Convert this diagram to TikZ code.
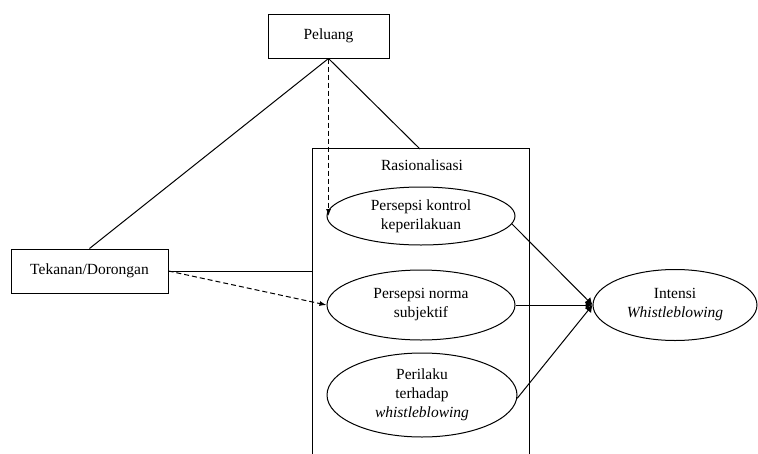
\documentclass[tikz,border=0pt]{standalone}
\usepackage{fontspec}
\setmainfont{Liberation Serif}
\usetikzlibrary{shapes.geometric,arrows.meta}
\begin{document}
\begin{tikzpicture}[x=1pt,y=-1pt,
  every node/.style={font=\fontsize{15.5}{19}\selectfont, align=center, inner sep=0pt},
  boxnode/.style={draw, line width=1pt, rectangle},
  ovalnode/.style={draw, line width=1pt, ellipse},
  conn/.style={line width=1pt},
  dasharrow/.style={line width=1pt, dashed, dash pattern=on 5pt off 3pt, -{Latex[length=7pt,width=5pt]}},
  joinarrow/.style={line width=1pt, -{Latex[length=7pt,width=8pt]}}]
\useasboundingbox (0,0) rectangle (758,453);
% nodes
\node[boxnode, minimum width=121pt, minimum height=44pt] (pel) at (328.5,36) {Peluang};
\node[boxnode, minimum width=157pt, minimum height=44pt] (tek) at (89.5,271) {Tekanan/Dorongan};
\node[minimum width=216pt, minimum height=320pt] (ras) at (421,309) {};
\node (raslabel) at (422,165) {Rasionalisasi};
\node[ovalnode, minimum width=188pt, minimum height=58pt] (e1) at (421,216) {Persepsi kontrol\\keperilakuan};
\node[ovalnode, minimum width=188pt, minimum height=70pt] (e2) at (421,305) {Persepsi norma\\subjektif};
\node[ovalnode, minimum width=190pt, minimum height=84pt] (e3) at (422,395) {Perilaku\\terhadap\\\textit{whistleblowing}};
\node[ovalnode, minimum width=164pt, minimum height=71pt] (int) at (675,305) {Intensi\\\textit{Whistleblowing}};
\coordinate (rastop) at (420,149);
% container sides (bottom runs off the picture)
\draw[conn] (ras.south west) |- (ras.north east) -- (ras.south east);
% connectors
\draw[conn] (pel.south) -- (tek.north);
\draw[conn] (pel.south) -- (rastop);
\draw[conn] (tek.east) -- (tek.east -| ras.west);
\draw[dasharrow] (pel.south) -- (pel.south |- e1.west);
\draw[dasharrow] (tek.east) -- (e2.west);
\draw[joinarrow] (e1.-5) -- (int.west);
\draw[joinarrow] (e2.east) -- (int.west);
\draw[joinarrow] (e3.-2) -- (int.west);
\end{tikzpicture}
\end{document}
